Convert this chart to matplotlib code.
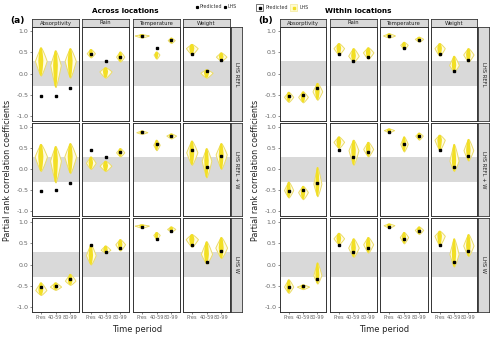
import matplotlib
matplotlib.use("Agg")
import matplotlib.pyplot as plt
from matplotlib.lines import Line2D
from matplotlib.patches import Rectangle
import numpy as np

# ---------------- data ----------------
periods = ["Pres", "40-59", "80-99"]
variables = ["Absorptivity", "Rain", "Temperature", "Weight"]
models = ["LHS REFL", "LHS REFL + W", "LHS W"]

# predicted values [model][variable][period]
across_pred = [
    [[-0.53, -0.52, -0.34], [0.47, 0.29, 0.40], [0.88, 0.60, 0.79], [0.47, 0.05, 0.33]],
    [[-0.53, -0.51, -0.33], [0.46, 0.29, 0.40], [0.88, 0.60, 0.79], [0.46, 0.05, 0.32]],
    [[-0.53, -0.51, -0.33], [0.46, 0.29, 0.40], [0.88, 0.60, 0.79], [0.46, 0.05, 0.32]],
]
within_pred = [
    [[-0.53, -0.51, -0.33], [0.47, 0.29, 0.40], [0.88, 0.60, 0.79], [0.46, 0.05, 0.32]],
    [[-0.53, -0.51, -0.33], [0.46, 0.29, 0.40], [0.88, 0.60, 0.79], [0.46, 0.05, 0.32]],
    [[-0.52, -0.51, -0.33], [0.47, 0.30, 0.40], [0.88, 0.60, 0.79], [0.46, 0.06, 0.32]],
]

# LHS distributions: lower end, mode, upper end, half-width
across_lo = [
    [[-0.05, -0.32, -0.10], [0.38, -0.10, 0.28], [0.85, 0.35, 0.72], [0.45, -0.10, 0.30]],
    [[-0.05, -0.32, -0.10], [0.00, -0.05, 0.30], [0.84, 0.45, 0.73], [0.10, -0.20, 0.00]],
    [[-0.72, -0.60, -0.48], [0.00, 0.28, 0.33], [0.87, 0.60, 0.78], [0.42, 0.02, 0.15]],
]
across_mode = [
    [[0.30, 0.20, 0.30], [0.48, 0.05, 0.40], [0.90, 0.45, 0.79], [0.60, 0.02, 0.40]],
    [[0.30, 0.20, 0.30], [0.15, 0.08, 0.40], [0.88, 0.58, 0.80], [0.40, 0.20, 0.35]],
    [[-0.60, -0.52, -0.38], [0.22, 0.35, 0.48], [0.92, 0.70, 0.84], [0.60, 0.25, 0.40]],
]
across_hi = [
    [[0.62, 0.55, 0.60], [0.58, 0.15, 0.52], [0.93, 0.52, 0.85], [0.70, 0.10, 0.50]],
    [[0.60, 0.55, 0.62], [0.30, 0.20, 0.50], [0.92, 0.70, 0.85], [0.68, 0.50, 0.62]],
    [[-0.42, -0.42, -0.22], [0.48, 0.45, 0.60], [0.95, 0.77, 0.90], [0.72, 0.55, 0.65]],
]
across_w = [
    [[0.40, 0.36, 0.38], [0.28, 0.42, 0.28], [0.48, 0.20, 0.24], [0.40, 0.42, 0.36]],
    [[0.42, 0.37, 0.40], [0.33, 0.40, 0.28], [0.38, 0.22, 0.33], [0.38, 0.33, 0.38]],
    [[0.38, 0.38, 0.36], [0.33, 0.33, 0.33], [0.48, 0.22, 0.28], [0.42, 0.38, 0.40]],
]

within_lo = [
    [[-0.67, -0.68, -0.62], [0.45, 0.28, 0.35], [0.85, 0.58, 0.75], [0.42, 0.05, 0.28]],
    [[-0.68, -0.72, -0.65], [0.50, 0.10, 0.30], [0.88, 0.42, 0.70], [0.45, -0.05, 0.20]],
    [[-0.67, -0.58, -0.45], [0.48, 0.18, 0.28], [0.87, 0.50, 0.72], [0.45, -0.05, 0.20]],
]
within_mode = [
    [[-0.55, -0.55, -0.42], [0.60, 0.42, 0.50], [0.90, 0.68, 0.82], [0.60, 0.20, 0.45]],
    [[-0.50, -0.55, -0.35], [0.65, 0.45, 0.48], [0.93, 0.60, 0.80], [0.70, 0.20, 0.45]],
    [[-0.52, -0.52, -0.25], [0.62, 0.40, 0.48], [0.93, 0.65, 0.82], [0.68, 0.25, 0.45]],
]
within_hi = [
    [[-0.43, -0.42, -0.22], [0.72, 0.60, 0.62], [0.95, 0.75, 0.87], [0.72, 0.42, 0.60]],
    [[-0.30, -0.40, 0.05], [0.78, 0.70, 0.65], [0.97, 0.78, 0.87], [0.82, 0.60, 0.72]],
    [[-0.35, -0.47, 0.05], [0.75, 0.62, 0.65], [0.97, 0.77, 0.90], [0.80, 0.62, 0.72]],
]
within_w = [
    [[0.32, 0.34, 0.34], [0.36, 0.36, 0.36], [0.40, 0.25, 0.28], [0.36, 0.34, 0.36]],
    [[0.32, 0.34, 0.28], [0.36, 0.34, 0.34], [0.34, 0.25, 0.25], [0.36, 0.32, 0.34]],
    [[0.32, 0.42, 0.28], [0.36, 0.36, 0.34], [0.36, 0.28, 0.28], [0.36, 0.32, 0.36]],
]

ytick_vals = [-1.0, -0.5, 0.0, 0.5, 1.0]

# ---------------- layout ----------------
W, H = 496, 338
fig = plt.figure(figsize=(W / 100, H / 100), dpi=100)

def ax_at(x0, y0, x1, y1, **kw):
    return fig.add_axes([x0 / W, 1 - y1 / H, (x1 - x0) / W, (y1 - y0) / H], **kw)

OUTLINE = "#ebdc6a"
INNER = "#f2df24"
GREY_TXT = "#666666"
STRIP = "#d9d9d9"

def violin(ax, x, lo, mode, hi, w):
    y = np.linspace(lo, hi, 80)
    t = np.where(y <= mode, (y - lo) / max(mode - lo, 1e-6),
                 (hi - y) / max(hi - mode, 1e-6))
    t = np.clip(t, 0, 1)
    prof = t ** 0.8
    ax.fill_betweenx(y, x - w * prof, x + w * prof, facecolor="#fffbe3",
                     edgecolor=OUTLINE, lw=0.7, zorder=2)
    iw = (0.07 + 0.25 * w) * t ** 0.35
    ax.fill_betweenx(y, x - iw, x + iw, facecolor=INNER, edgecolor="none", zorder=3)

panels = [
    dict(cols=[(32, 79), (82, 129), (133, 180), (183, 230)], strip=(231, 242),
         pred=across_pred, lo=across_lo, mode=across_mode, hi=across_hi, w=across_w),
    dict(cols=[(280, 326), (330, 377), (380, 428), (431, 477)], strip=(478, 489),
         pred=within_pred, lo=within_lo, mode=within_mode, hi=within_hi, w=within_w),
]
rows = [(27, 121), (123, 216), (218, 312)]

for p in panels:
    for r, (ry0, ry1) in enumerate(rows):
        for c, (cx0, cx1) in enumerate(p["cols"]):
            ax = ax_at(cx0, ry0, cx1, ry1)
            ax.set_xlim(0.4, 3.6)
            ax.set_ylim(-1.12, 1.1)
            ax.axhspan(-0.3, 0.3, color=STRIP, lw=0, zorder=0)
            xs = np.arange(1, 4)
            for k in range(3):
                violin(ax, xs[k], p["lo"][r][c][k], p["mode"][r][c][k],
                       p["hi"][r][c][k], p["w"][r][c][k])
            ax.plot(xs, p["pred"][r][c], "s", ms=1.6, color="black", zorder=5, lw=0)
            for s in ax.spines.values():
                s.set_color("#333333")
                s.set_linewidth(0.7)
            ax.set_yticks(ytick_vals)
            ax.set_xticks(xs)
            ax.tick_params(length=1.5, width=0.4, color="#333333", pad=1)
            if c == 0:
                ax.set_yticklabels([f"{v:.1f}" for v in ytick_vals], fontsize=4.5,
                                   color=GREY_TXT)
            else:
                ax.set_yticklabels([])
                ax.tick_params(axis="y", length=0)
            if r == 2:
                ax.set_xticklabels(periods, fontsize=3.6, color=GREY_TXT)
            else:
                ax.set_xticklabels([])
                ax.tick_params(axis="x", length=0)
            if r == 0:
                sa = ax_at(cx0, 19, cx1, 27)
                sa.set_facecolor(STRIP)
                sa.set_xticks([]); sa.set_yticks([])
                for s in sa.spines.values():
                    s.set_color("#333333"); s.set_linewidth(0.6)
                sa.text(0.5, 0.5, variables[c], ha="center", va="center",
                        fontsize=3.8, color="#222222", transform=sa.transAxes)
        sx0, sx1 = p["strip"]
        sa = ax_at(sx0, ry0, sx1, ry1)
        sa.set_facecolor(STRIP)
        sa.set_xticks([]); sa.set_yticks([])
        for s in sa.spines.values():
            s.set_color("#333333"); s.set_linewidth(0.6)
        sa.text(0.5, 0.5, models[r], ha="center", va="center", rotation=-90,
                fontsize=3.8, color="#222222", transform=sa.transAxes)

# ---------------- texts ----------------
def ft(x, y, s, **kw):
    fig.text(x / W, 1 - y / H, s, **kw)

ft(17, 21, "(a)", fontsize=6.5, fontweight="bold", ha="center", va="center")
ft(266, 21, "(b)", fontsize=6.5, fontweight="bold", ha="center", va="center")
ft(125, 11, "Across locations", fontsize=5.2, fontweight="bold", ha="center", va="center")
ft(358, 11, "Within locations", fontsize=5.2, fontweight="bold", ha="center", va="center")
ft(8, 170, "Partial rank correlation coefficients", fontsize=5.8, rotation=90,
   ha="center", va="center", color="#222222")
ft(256, 170, "Partial rank correlation coefficients", fontsize=5.8, rotation=90,
   ha="center", va="center", color="#222222")
ft(137, 329, "Time period", fontsize=6, ha="center", va="center", color="#222222")
ft(384, 329, "Time period", fontsize=6, ha="center", va="center", color="#222222")

# left legend
fig.add_artist(Line2D([197 / W], [1 - 6.5 / H], marker="s", ms=1.3, color="black", lw=0))
ft(199, 6.5, "Predicted", fontsize=3.4, va="center", color="#333333")
fig.add_artist(Line2D([225 / W], [1 - 6.5 / H], marker="s", ms=1.3, color="black", lw=0))
ft(227, 6.5, "LHS", fontsize=3.4, va="center", color="#333333")

# right legend
fig.add_artist(Rectangle((256 / W, 1 - 11 / H), 7 / W, 7 / H, transform=fig.transFigure,
                         facecolor="white", edgecolor="#444444", lw=0.5))
fig.add_artist(Line2D([259.5 / W], [1 - 7.5 / H], marker="s", ms=1.8, color="black", lw=0))
ft(266, 7.5, "Predicted", fontsize=3.4, va="center", color="#333333")
fig.add_artist(Rectangle((290 / W, 1 - 11 / H), 7 / W, 7 / H, transform=fig.transFigure,
                         facecolor="#fffbd0", edgecolor="#f3ea9a", lw=0.5))
fig.add_artist(Line2D([293.5 / W], [1 - 7.5 / H], marker="s", ms=1.5, color=INNER, lw=0))
ft(300, 7.5, "LHS", fontsize=3.4, va="center", color="#333333")

fig.savefig("out.png", dpi=100)
